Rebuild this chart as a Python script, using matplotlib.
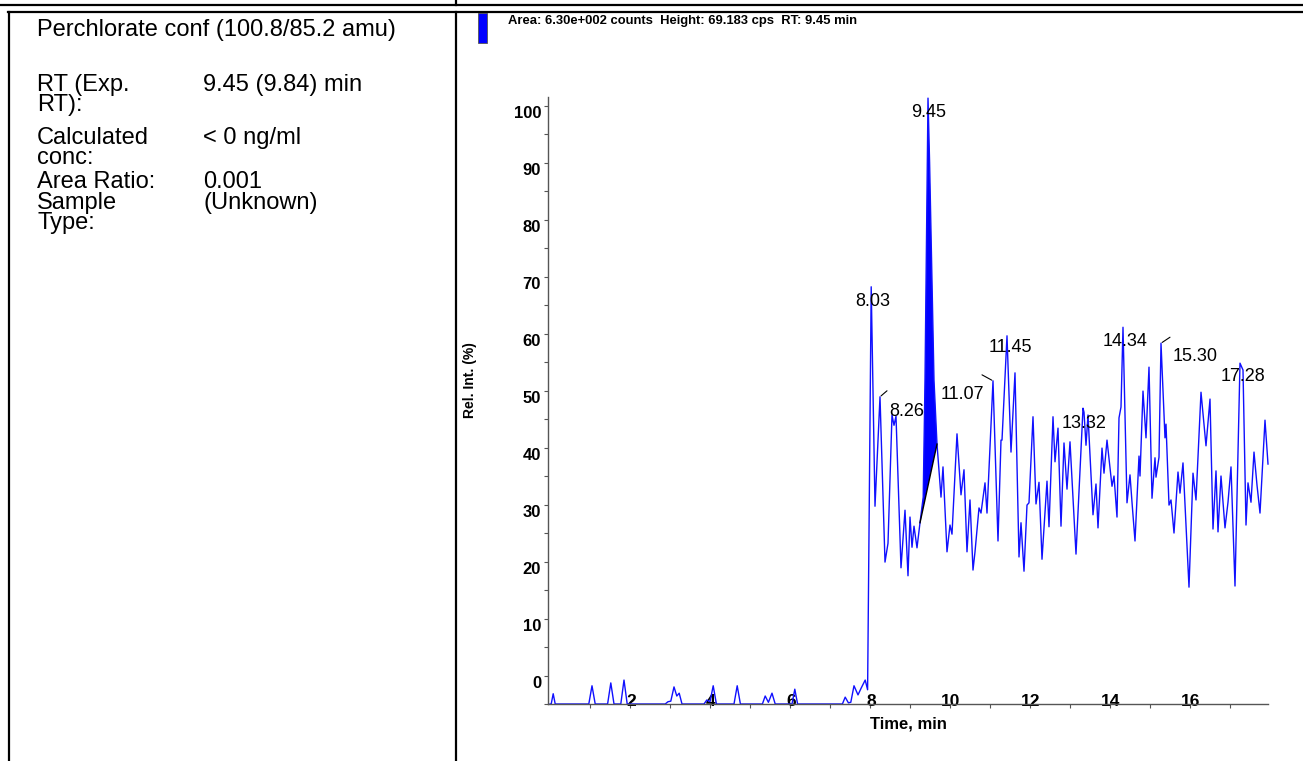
import numpy as np
import matplotlib
matplotlib.use('Agg')
import matplotlib.pyplot as plt
from matplotlib.lines import Line2D
from matplotlib.patches import Rectangle
from matplotlib.transforms import ScaledTranslation

W, H = 1303, 761

# chromatogram trace, time in min and relative intensity in %
time_min = [
    0.00, 0.03, 0.08, 0.13,
    0.97, 1.05, 1.13,
    1.44, 1.52, 1.60,
    1.77, 1.85, 1.93,
    2.88, 2.95, 3.02, 3.10, 3.17, 3.23, 3.30,
    3.85, 3.92, 4.00, 4.08, 4.16,
    4.60, 4.68, 4.76,
    5.31, 5.38, 5.46, 5.55, 5.63,
    6.05, 6.12, 6.19,
    7.31, 7.38, 7.46, 7.52, 7.60, 7.70, 7.78, 7.88, 7.94,
    8.03, 8.125, 8.25, 8.375, 8.45, 8.55, 8.60, 8.65, 8.775, 8.875, 8.95, 9.00, 9.05, 9.10, 9.175, 9.25,
    9.33, 9.375, 9.45, 9.49, 9.55, 9.60, 9.675,
    9.775, 9.825, 9.925, 10.0, 10.05, 10.175, 10.275, 10.35, 10.425, 10.5, 10.575, 10.625, 10.725, 10.775, 10.875, 10.925,
    11.075, 11.2, 11.275, 11.3, 11.425, 11.525, 11.625, 11.725, 11.775, 11.85, 11.925, 11.975,
    12.075, 12.15, 12.225, 12.3, 12.425, 12.475, 12.575, 12.625, 12.7, 12.775, 12.85, 12.925, 13.0,
    13.15, 13.325, 13.35, 13.4, 13.45, 13.575, 13.65, 13.7, 13.8, 13.85, 13.925,
    14.05, 14.1, 14.175, 14.225, 14.275, 14.325, 14.425, 14.5, 14.55, 14.625, 14.725, 14.75, 14.825, 14.9, 14.975,
    15.05, 15.125, 15.15, 15.225, 15.275, 15.375, 15.4, 15.475, 15.525, 15.6, 15.7, 15.75, 15.825, 15.975,
    16.075, 16.15, 16.275, 16.4, 16.5, 16.575, 16.65, 16.7, 16.775, 16.875, 16.95,
    17.025, 17.125, 17.25, 17.325, 17.4, 17.45, 17.525, 17.6, 17.675, 17.75, 17.875, 17.95,
]
intensity = [
    0, 0, 1.8, 0,
    0, 3.2, 0,
    0, 3.7, 0,
    0, 4.2, 0,
    0, 0.4, 0.5, 3.0, 1.4, 1.9, 0,
    0, 0.7, 0.4, 3.2, 0,
    0, 3.2, 0,
    0, 1.4, 0.3, 1.9, 0,
    0, 2.6, 0,
    0, 1.2, 0.2, 0.3, 3.2, 1.6, 2.8, 4.2, 2.5,
    73.2, 34.7, 53.9, 24.9, 28.2, 50.7, 48.9, 50.5, 23.9, 34.0, 22.5, 32.8, 27.5, 31.2, 27.4, 31.8,
    36.3, 56.8, 106.3, 95.0, 74.4, 56.8, 45.6,
    36.3, 41.6, 26.7, 31.4, 29.8, 47.4, 36.7, 41.1, 26.7, 35.8, 23.5, 26.7, 34.4, 33.5, 38.8, 33.5,
    56.7, 28.6, 46.3, 46.3, 64.6, 44.2, 58.1, 25.8, 31.8, 23.3, 34.9, 35.3,
    50.4, 35.1, 38.9, 25.4, 39.1, 31.1, 50.4, 42.5, 48.4, 31.2, 45.8, 37.7, 46.0,
    26.3, 51.9, 51.2, 45.4, 50.7, 33.2, 38.6, 30.9, 44.9, 40.5, 46.3,
    38.2, 40.0, 32.8, 50.2, 52.1, 66.1, 35.3, 40.2, 35.4, 28.6, 43.5, 40.0, 54.9, 46.7, 59.1,
    36.1, 43.2, 39.8, 43.3, 63.3, 46.7, 49.1, 34.9, 35.8, 30.0, 40.7, 37.0, 42.3, 20.5,
    40.5, 35.8, 54.7, 45.3, 53.5, 30.7, 40.9, 30.2, 40.0, 30.9, 35.4,
    41.6, 20.7, 59.8, 58.6, 31.4, 38.8, 35.4, 44.2, 38.4, 33.5, 49.8, 42.1,
]

peak_rt = [8.03, 8.26, 9.45, 11.07, 11.45, 13.32, 14.34, 15.30, 17.28]
# integrated peak limits (min)
int_start, int_end = 9.25, 9.675

x_ticks = [2, 4, 6, 8, 10, 12, 14, 16]
y_ticks = [0, 10, 20, 30, 40, 50, 60, 70, 80, 90, 100]

title = "Perchlorate conf (100.8/85.2 amu)"
row_names = [["RT (Exp.", "RT):"], ["Calculated", "conc:"], ["Area Ratio:"], ["Sample", "Type:"]]
row_values = ["9.45 (9.84) min", "< 0 ng/ml", "0.001", "(Unknown)"]
header = "Area: 6.30e+002 counts  Height: 69.183 cps  RT: 9.45 min"

plt.rcParams['font.family'] = ['Liberation Sans', 'DejaVu Sans']

fig = plt.figure(figsize=(W / 100, H / 100), dpi=100)


def fx(x):
    return x / W


def fy(y):
    return 1 - y / H


def hline(x0, x1, y):
    fig.add_artist(Line2D([fx(x0), fx(x1)], [fy(y), fy(y)], transform=fig.transFigure,
                          color='black', lw=1.6))


def vline(x, y0, y1):
    fig.add_artist(Line2D([fx(x), fx(x)], [fy(y0), fy(y1)], transform=fig.transFigure,
                          color='black', lw=1.6))


# table frame
hline(0, W, 5)
vline(456, 0, 5)
hline(8, W, 12)
vline(9, 12, H)
vline(456, 12, H)

# left cell text
fig.text(fx(37), fy(30), title, fontsize=17, va='center', ha='left')
row_y = [85, 138, 182, 203]
for names, val, y in zip(row_names, row_values, row_y):
    for i, name in enumerate(names):
        fig.text(fx(37), fy(y + 20 * i), name, fontsize=17, va='center', ha='left')
    fig.text(fx(203), fy(y), val, fontsize=17, va='center', ha='left')

# legend swatch and header
fig.add_artist(Rectangle((fx(478), fy(43)), fx(9), 30 / H, transform=fig.transFigure,
                         facecolor='#0000ff', edgecolor='#555555', lw=0.6))
fig.text(fx(508), fy(21), header, fontsize=9.4, fontweight='bold', va='center', ha='left')

# chromatogram axes
ax = fig.add_axes([fx(548), fy(704), 720 / W, 607 / H])
t = np.array(time_min)
v = np.array(intensity)
ax.plot(t, v, color='#1010ff', lw=1.0, clip_on=False)

i0 = int(np.argmin(np.abs(t - int_start)))
i1 = int(np.argmin(np.abs(t - int_end)))
ax.fill(t[i0:i1 + 1], v[i0:i1 + 1], color='#0000ff', lw=0)
ax.plot([t[i0], t[i1]], [v[i0], v[i1]], color='black', lw=1.0)

ax.set_xlim(-0.05, 17.95)
ax.set_ylim(0, 106.5)
for s in ['top', 'right']:
    ax.spines[s].set_visible(False)
for s in ['left', 'bottom']:
    ax.spines[s].set_color('#555555')
    ax.spines[s].set_linewidth(1.0)

ax.set_xticks(x_ticks)
ax.set_xticks([1, 3, 5, 7, 9, 11, 13, 15, 17], minor=True)
ax.set_yticks(y_ticks)
ax.set_yticks(np.arange(5, 106, 10), minor=True)
ax.set_xticklabels([str(x) for x in x_ticks], fontsize=12.5, fontweight='bold')
ax.set_yticklabels([str(y) for y in y_ticks], fontsize=12, fontweight='bold')
ax.tick_params(axis='both', which='both', direction='out', length=3, width=0.8, color='#555555')
ax.tick_params(axis='y', pad=2)
ax.tick_params(axis='x', pad=0)

up_y = ScaledTranslation(0, 0.22, fig.dpi_scale_trans)
for lab in ax.get_yticklabels():
    lab.set_transform(lab.get_transform() + up_y)
up_x = ScaledTranslation(0.01, 0.14, fig.dpi_scale_trans)
for lab in ax.get_xticklabels():
    lab.set_transform(lab.get_transform() + up_x)

ax.text(0.5, -20 / 607, "Time, min", transform=ax.transAxes, ha='center', va='center',
        fontsize=12, fontweight='bold')
fig.text(fx(470), fy(380), "Rel. Int. (%)", rotation=90, ha='center', va='center',
         fontsize=10, fontweight='bold')

# peak labels, offsets in pixels from apex
label_offsets = [(2, -15), (27, -15), (1, -14), (-31, -14), (3, -12),
                 (1, -15), (2, -14), (34, -13), (3, -13)]
for rt, (dx, dy) in zip(peak_rt, label_offsets):
    win = np.where(np.abs(t - rt) <= 0.06)[0]
    k = win[np.argmax(v[win])]
    ax.annotate("%.2f" % rt, xy=(t[k], v[k]), xytext=(dx, dy), textcoords='offset pixels',
                ha='center', va='center', fontsize=13, annotation_clip=False)

# short leader ticks at some apexes
leaders = {8.26: (7, 6), 11.07: (-11, 6), 15.30: (9, 6)}
for rt, (dx, dy) in leaders.items():
    win = np.where(np.abs(t - rt) <= 0.06)[0]
    k = win[np.argmax(v[win])]
    ax.annotate("", xy=(t[k], v[k]), xytext=(dx, dy), textcoords='offset pixels',
                arrowprops=dict(arrowstyle='-', color='black', lw=0.8, shrinkA=0, shrinkB=1),
                annotation_clip=False)

fig.savefig('out.png', dpi=100)
